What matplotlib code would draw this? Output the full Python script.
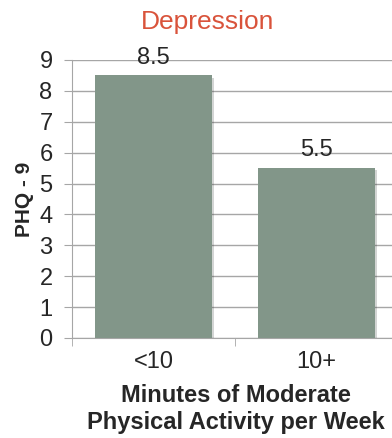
import matplotlib
matplotlib.use("Agg")
import matplotlib.pyplot as plt
import matplotlib.patheffects as pe

plt.rcParams['font.family'] = ['Liberation Sans', 'DejaVu Sans']

categories = ['<10', '10+']
phq9 = [8.5, 5.5]
value_labels = ['8.5', '5.5']

grid_c = '#a6a6a6'
text_c = '#262626'

fig = plt.figure(figsize=(3.92, 4.38), dpi=100)
ax = fig.add_axes([72/392, 100/438, 326/392, 278/438])

xs = list(range(len(categories)))
bars = ax.bar(xs, phq9, width=0.72, color='#829689', zorder=3,
              path_effects=[pe.SimplePatchShadow(offset=(1.5, -1.5), alpha=0.2), pe.Normal()])
for x, v, lab in zip(xs, phq9, value_labels):
    ax.text(x, v + 0.22, lab, ha='center', va='bottom', fontsize=17, color=text_c, zorder=2)

ax.set_xlim(-0.5, 1.5)
ax.set_ylim(0, 9)
ax.set_yticks(range(10))
ax.yaxis.grid(True, color=grid_c, linewidth=1, zorder=0)
ax.set_xticks(xs)
ax.set_xticklabels(categories, fontsize=17, color=text_c)
ax.set_xticks([-0.5, 0.5, 1.5], minor=True)
ax.tick_params(axis='x', which='major', length=0, pad=9)
ax.tick_params(axis='x', which='minor', length=6, color=grid_c, direction='out')
ax.tick_params(axis='y', labelsize=17, colors=text_c, length=6, color=grid_c, pad=8)
for s in ['top', 'right']:
    ax.spines[s].set_visible(False)
ax.spines['left'].set_color(grid_c)
ax.spines['bottom'].set_color(grid_c)

ax.set_ylabel('PHQ - 9', fontsize=15, fontweight='bold', color=text_c, labelpad=4)
fig.text(236/392, 1 - 409/438, 'Minutes of Moderate\nPhysical Activity per Week',
         ha='center', va='center', fontsize=17, fontweight='bold', color=text_c,
         linespacing=1.25)
fig.text(208/392, 1 - 22/438, 'Depression', ha='center', va='center',
         fontsize=19, color='#d9533b')

fig.savefig('out.png', dpi=100)
